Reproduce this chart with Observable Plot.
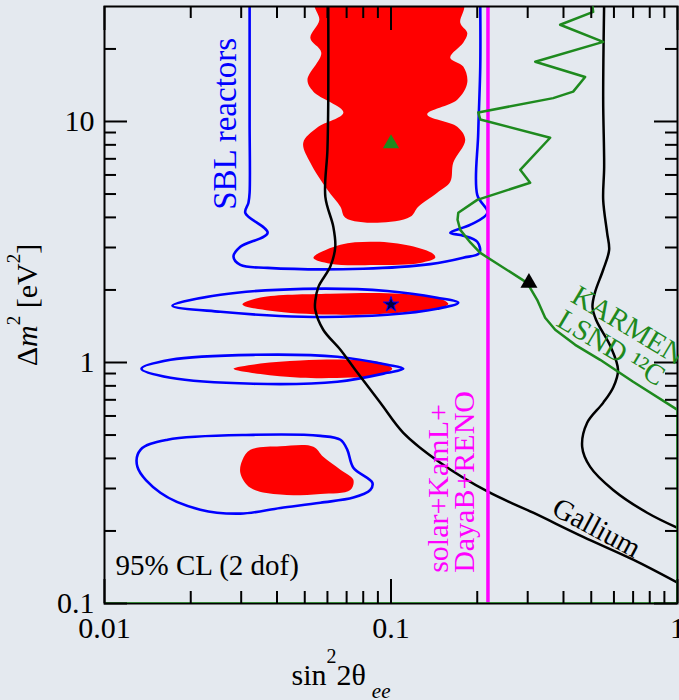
<!DOCTYPE html>
<html>
<head>
<meta charset="utf-8">
<script src="https://cdn.jsdelivr.net/npm/d3@7"></script>
<script src="https://cdn.jsdelivr.net/npm/@observablehq/plot@0.6"></script>
<style>
html, body { margin: 0; padding: 0; background: #e4e9ef; font-family: "Liberation Serif", "Times New Roman", serif; }
#chart { width: 679px; height: 700px; overflow: hidden; }
#chart svg, #chart svg text, #chart svg g { font-family: "Liberation Serif", "Times New Roman", serif !important; }
</style>
</head>
<body>
<div id="chart"></div>
<script>
// ---- red allowed regions (sin^2 2θ, Δm^2) ----
const redUpper = [[0.0544,31],[0.0562,26.4],[0.0523,22.2],[0.0571,19.3],[0.0511,14.9],[0.0536,13.3],[0.0682,10.9],[0.0553,9.44],[0.0494,8.16],[0.0523,6.74],[0.0600,5.21],[0.0666,4.43],[0.0693,3.99],[0.0896,3.80],[0.1167,4.02],[0.1245,4.43],[0.1450,5.06],[0.1610,5.62],[0.1649,6.74],[0.1816,8.40],[0.1703,9.52],[0.1338,10.7],[0.1703,12.3],[0.1846,14.5],[0.1787,16.9],[0.1610,18.4],[0.1787,21.2],[0.1846,23.3],[0.1745,25.7],[0.1787,31]];
const redBand3 = [[0.0536,2.72],[0.0666,3.08],[0.0881,3.17],[0.1167,3.05],[0.1405,2.82],[0.1427,2.72],[0.1265,2.59],[0.0881,2.54],[0.0614,2.57]];
const redBand175 = [[0.0303,1.74],[0.035,1.86],[0.0614,1.93],[0.1078,1.93],[0.1486,1.84],[0.1585,1.75],[0.1486,1.69],[0.1078,1.61],[0.0614,1.58],[0.0379,1.64]];
const redBand1 = [[0.0282,0.942],[0.035,0.99],[0.0483,1.02],[0.0721,1.026],[0.0918,1.0],[0.101,0.942],[0.0918,0.89],[0.0721,0.866],[0.0483,0.864],[0.035,0.895]];
const redBand035 = [[0.0298,0.348],[0.0303,0.394],[0.0323,0.434],[0.0411,0.449],[0.0536,0.447],[0.058,0.406],[0.0666,0.359],[0.0739,0.326],[0.0721,0.296],[0.0567,0.285],[0.0411,0.283],[0.0323,0.302]];

// ---- blue SBL reactor contours ----
const blueOpen = [[0.0321,31],[0.0321,10],[0.0321,5.06],[0.0318,4.60],[0.031,4.18],[0.0371,3.45],[0.0298,3.02],[0.0282,2.75],[0.0298,2.54],[0.0371,2.47],[0.08,2.45],[0.1371,2.56],[0.1787,2.72],[0.2037,2.85],[0.2,3.17],[0.1787,3.36],[0.161,3.45],[0.1895,3.73],[0.2172,4.18],[0.2,4.96],[0.2016,8.98],[0.2049,16.9],[0.2049,31]];
const blueLens175 = [[0.01726,1.72],[0.0254,1.91],[0.0494,2.02],[0.0971,1.98],[0.145,1.856],[0.1717,1.769],[0.145,1.67],[0.0971,1.577],[0.0494,1.548],[0.0254,1.623]];
const blueLens1 = [[0.01346,0.942],[0.017,1.026],[0.0331,1.076],[0.065,1.056],[0.0971,0.978],[0.1104,0.942],[0.0971,0.906],[0.065,0.832],[0.0331,0.816],[0.017,0.864]];
const blueLoop035 = [[0.01303,0.369],[0.01335,0.434],[0.0166,0.478],[0.0331,0.501],[0.0567,0.496],[0.0666,0.478],[0.0704,0.434],[0.0739,0.366],[0.0861,0.317],[0.0847,0.296],[0.0739,0.275],[0.0567,0.262],[0.0411,0.249],[0.0298,0.236],[0.0216,0.245],[0.01567,0.288]];

// ---- black Gallium curves ----
const galliumLeft = [[0.0604,31],[0.0604,12.3],[0.06,7.63],[0.059,4.87],[0.0629,3.66],[0.0639,3.02],[0.0614,2.50],[0.0558,2.06],[0.0544,1.80],[0.0544,1.654],[0.058,1.367],[0.0666,1.129],[0.075,0.933],[0.0918,0.681],[0.1104,0.511],[0.1486,0.384],[0.218,0.291],[0.3135,0.238],[0.4685,0.189],[0.70,0.152],[1.0,0.122]];
const galliumRight = [[0.5546,31],[0.5503,12.3],[0.5546,6.49],[0.5503,4.73],[0.568,3.45],[0.5773,2.93],[0.55,2.42],[0.515,1.95],[0.505,1.70],[0.52,1.50],[0.585,1.16],[0.62,0.933],[0.597,0.79],[0.55,0.68],[0.4838,0.562],[0.4648,0.447],[0.4957,0.369],[0.5963,0.296],[0.7834,0.238],[1.0,0.206]];

// ---- green KARMEN + LSND 12C ----
const karmen = [[0.5037,30.5],[0.5078,28.5],[0.3894,25.2],[0.5503,21.4],[0.3187,17.7],[0.476,15.3],[0.4324,13.3],[0.3683,12.5],[0.2016,10.9],[0.2049,10.2],[0.3594,8.56],[0.2825,6.30],[0.306,5.57],[0.2,4.73],[0.1717,4.18],[0.1707,3.91],[0.1745,3.55],[0.1895,3.14],[0.2049,2.85],[0.2988,2.14],[0.3237,1.82],[0.3452,1.533],[0.3742,1.367],[0.4394,1.184],[0.537,1.026],[0.70,0.832],[1.0,0.636],[1.0,0.1],[0.01,0.1]];

// ---- magenta solar+KamL+DayaB+RENO bound ----
const solarBound = [0.218];

// ---- markers ----
const greenTriangle = [[0.1, 8.1]];
const blackTriangle = [[0.303, 2.14]];
const bestStar = [[0.1, 1.74]];

// ---- ticks ----
const xTickLabels = [0.01, 0.1, 1];
const yTickLabels = [0.1, 1, 10];
const xMajor = [0.01, 0.1, 1];
const xMinor = [0.02,0.03,0.04,0.05,0.06,0.07,0.08,0.09,0.2,0.3,0.4,0.5,0.6,0.7,0.8,0.9];
const yMajor = [0.1, 1, 10];
const yMinor = [0.2,0.3,0.4,0.5,0.6,0.7,0.8,0.9,2,3,4,5,6,7,8,9,20];

const rows = (arr, id) => arr.map(([x, y]) => ({x, y, id}));
const redData = [...rows(redUpper,"u"), ...rows(redBand3,"b3"), ...rows(redBand175,"b175"), ...rows(redBand1,"b1"), ...rows(redBand035,"b035")];
const blueClosed = [...rows(blueLens175,"l175"), ...rows(blueLens1,"l1"), ...rows(blueLoop035,"l035")];
const blackData = [...rows(galliumLeft,"gl"), ...rows(galliumRight,"gr")];

const W = 679, H = 700, mL = 104, mR = 2, mT = 6, mB = 97;
const fw = W - mL - mR, fh = H - mT - mB;
const BG = "#e4e9ef", GREEN = "#1e8a1e";
const FONT = "Liberation Serif, Times New Roman, serif";

const svg = Plot.plot({
  width: W, height: H,
  marginLeft: mL, marginRight: mR, marginTop: mT, marginBottom: mB,
  style: {background: BG, fontFamily: FONT, color: "black"},
  x: {type: "log", domain: [0.01, 1]},
  y: {type: "log", domain: [0.1, 30]},
  marks: [
    Plot.line(redData, {x: "x", y: "y", z: "id", fill: "#ff0000", stroke: "none", curve: "catmull-rom-closed", clip: true}),
    Plot.line(blueClosed, {x: "x", y: "y", z: "id", stroke: "#0000ff", strokeWidth: 2.6, curve: "catmull-rom-closed", clip: true}),
    Plot.line(rows(blueOpen,"o"), {x: "x", y: "y", stroke: "#0000ff", strokeWidth: 2.6, curve: "catmull-rom", clip: true}),
    Plot.line(blackData, {x: "x", y: "y", z: "id", stroke: "black", strokeWidth: 2.5, curve: "catmull-rom", clip: true}),
    Plot.ruleX(solarBound, {x: d => d, stroke: "#ff00ff", strokeWidth: 3.5}),
    Plot.frame({stroke: "black", strokeWidth: 2}),
    Plot.line(rows(karmen,"k"), {x: "x", y: "y", stroke: GREEN, strokeWidth: 2.5, clip: true}),
    // ticks (inward)
    Plot.tickX(xMajor, {x: d => d, stroke: "black", strokeWidth: 2, insetTop: fh - 24}),
    Plot.tickX(xMinor, {x: d => d, stroke: "black", strokeWidth: 2, insetTop: fh - 12}),
    Plot.tickX(xMajor, {x: d => d, stroke: "black", strokeWidth: 2, insetBottom: fh - 24}),
    Plot.tickX(xMinor, {x: d => d, stroke: "black", strokeWidth: 2, insetBottom: fh - 12}),
    Plot.tickY(yMajor, {y: d => d, stroke: "black", strokeWidth: 2, insetRight: fw - 23}),
    Plot.tickY(yMinor, {y: d => d, stroke: "black", strokeWidth: 2, insetRight: fw - 12}),
    Plot.tickY(yMajor, {y: d => d, stroke: "black", strokeWidth: 2, insetLeft: fw - 23}),
    Plot.tickY(yMinor, {y: d => d, stroke: "black", strokeWidth: 2, insetLeft: fw - 12}),
    Plot.axisX({ticks: xTickLabels, tickSize: 0, tickPadding: 13, fontSize: 30, fontFamily: FONT, tickFormat: d => String(d), label: null}),
    Plot.axisY({ticks: yTickLabels, tickSize: 0, tickPadding: 10, fontSize: 30, fontFamily: FONT, tickFormat: d => String(d), label: null}),
    // markers
    Plot.dot(greenTriangle, {x: d => d[0], y: d => d[1], symbol: "triangle", r: 6, fill: GREEN, stroke: "none"}),
    Plot.dot(blackTriangle, {x: d => d[0], y: d => d[1], symbol: "triangle", r: 6.3, fill: "black", stroke: "none"}),
    Plot.dot(bestStar, {x: d => d[0], y: d => d[1], symbol: "star", r: 4.8, fill: "#000040", stroke: "#0000ff", strokeWidth: 1}),
    // labels
    Plot.text(["SBL reactors"], {x: 0.0264, y: 4.30, text: d => d, rotate: -90, textAnchor: "start", lineAnchor: "middle", fontSize: 33, fontFamily: FONT, fill: "#0000ff"}),
    Plot.text(["solar+KamL+\nDayaB+RENO"], {x: 0.1357, y: 0.134, text: d => d, rotate: -90, textAnchor: "start", lineAnchor: "top", lineHeight: 0.87, fontSize: 30, fontFamily: FONT, fill: "#ff00ff"}),
    Plot.text(["Gallium"], {x: 0.5216, y: 0.206, text: d => d, rotate: 28, textAnchor: "middle", lineAnchor: "middle", fontSize: 29, fontFamily: FONT, fill: "black"}),
    Plot.text(["KARMEN+\nLSND ¹²C"], {x: 0.456, y: 2.12, text: d => d, rotate: 31, textAnchor: "start", lineAnchor: "top", lineHeight: 0.97, fontSize: 29, fontFamily: FONT, fill: GREEN}),
    Plot.text(["95% CL (2 dof)"], {x: 0.01093, y: 0.1438, text: d => d, textAnchor: "start", lineAnchor: "middle", fontSize: 29, fontFamily: FONT, fill: "black"})
  ]
});

// axis titles with super/subscripts
const s = d3.select(svg);
const xt = s.append("text").attr("x", 341).attr("y", 685).attr("font-size", 30).attr("font-family", FONT).attr("fill", "black");
xt.append("tspan").text("sin");
xt.append("tspan").attr("font-size", 20).attr("dy", -22).text("2");
xt.append("tspan").attr("dy", 22).text("2θ");
xt.append("tspan").attr("font-size", 21).attr("font-style", "italic").attr("dx", 6).attr("dy", 13).text("ee");

const yt = s.append("text").attr("transform", "translate(37,305) rotate(-90)").attr("text-anchor", "middle").attr("font-size", 30).attr("font-family", FONT).attr("fill", "black");
yt.append("tspan").text("Δ");
yt.append("tspan").attr("font-style", "italic").text("m");
yt.append("tspan").attr("font-size", 19).attr("dy", -17).text("2");
yt.append("tspan").attr("dy", 17).text(" [eV");
yt.append("tspan").attr("font-size", 19).attr("dy", -17).text("2");
yt.append("tspan").attr("dy", 17).text("]");

document.getElementById("chart").appendChild(svg);
</script>
</body>
</html>
